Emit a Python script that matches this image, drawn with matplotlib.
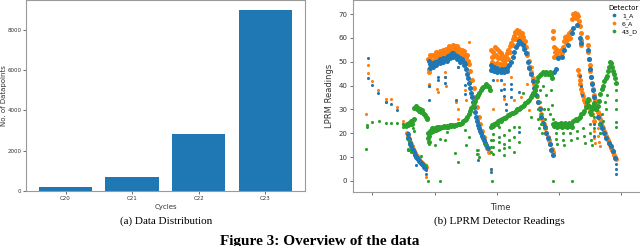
import numpy as np
import matplotlib.pyplot as plt

# ---- left panel: datapoints per cycle
cycles = ["C20", "C21", "C22", "C23"]
counts = [215, 712, 2832, 9000]

# ---- right panel: LPRM readings (time index, reading)
# dense runs of readings
a1_band_t = [260, 262, 264, 266, 268, 270, 273, 276, 279, 282, 285, 288, 291, 294, 297, 300, 303, 306, 309, 312,
             322, 325, 330, 335, 340, 345, 350, 355, 360, 365, 370, 375, 380, 385, 390, 395, 400, 405, 410, 415, 420, 425, 430,
             325, 335, 345, 355, 365, 375, 385, 395, 405, 415, 425,
             433, 436, 439, 442, 445, 448, 451, 454, 457, 460, 463, 466, 469, 472, 475, 478, 481, 484, 487, 490, 493, 496,
             505, 510, 515, 520, 525, 530, 535, 540, 545, 550, 555, 560,
             505, 515, 525, 535, 545, 555,
             565, 570, 575, 580, 585, 590, 595, 600, 605, 610, 615, 620,
             625, 630, 635, 640, 645, 650, 655, 660, 665, 670, 675, 680, 685, 690,
             692, 700, 705, 715, 723, 735, 745, 750, 760, 770, 772,
             793, 796, 799, 802, 805, 808, 812, 818, 824, 830, 836, 842, 848, 854, 860, 866, 872]
a1_band_v = [19.8, 18.0, 17.5, 16.0, 15.5, 14.5, 13.5, 12.8, 12.0, 11.0, 10.2, 9.5, 9.0, 8.5, 8.0, 7.5, 7.0, 6.5, 6.0, 5.5,
             50.5, 49.0, 48.5, 49.5, 50.0, 49.8, 50.5, 51.0, 50.6, 51.5, 51.0, 52.0, 52.5, 53.0, 53.5, 53.8, 53.0, 52.5, 52.0, 51.5, 51.0, 50.0, 49.0,
             47.5, 48.0, 48.5, 49.5, 50.0, 50.5, 51.5, 52.0, 51.0, 50.0, 48.5,
             47.0, 45.0, 43.0, 41.0, 39.0, 37.0, 35.0, 33.0, 31.0, 29.0, 27.0, 25.0, 23.5, 22.0, 21.0, 20.0, 19.0, 18.0, 17.0, 16.0, 15.0, 14.0,
             48.5, 47.5, 48.0, 47.0, 47.5, 46.5, 47.0, 46.5, 47.0, 46.5, 47.5, 48.5,
             46.5, 46.0, 45.5, 45.5, 45.5, 46.0,
             50.0, 52.0, 54.0, 56.0, 57.5, 58.5, 58.0, 57.0, 55.5, 53.5, 50.0, 47.5,
             45.0, 42.0, 39.0, 36.0, 33.0, 30.0, 27.0, 24.5, 22.5, 20.0, 18.0, 15.5, 13.0, 11.0,
             45.7, 47.0, 51.5, 52.0, 54.8, 57.0, 62.0, 64.0, 65.5, 60.0, 58.0,
             55.0, 51.0, 47.0, 43.5, 40.5, 38.0, 35.0, 30.0, 27.0, 24.0, 22.0, 20.0, 18.0, 16.0, 14.5, 12.5, 9.5]
# scattered readings
a1_pts_t = [143, 143, 155, 173, 197, 210, 228, 245, 262, 285, 315, 315,
            322, 322, 350, 350, 370, 370, 402, 410, 430, 430, 467, 505, 505,
            512, 535, 535, 545, 545, 550, 550, 565, 565, 565, 590, 588,
            875, 875, 875, 770, 772, 776, 800, 812, 810]
a1_pts_v = [51.6, 43.3, 40.1, 36.9, 33.1, 32.4, 29.6, 24.0, 13.1, 6.6, 3.1, 4.5,
            39.7, 33.8, 43.6, 42.2, 43.6, 41.0, 33.8, 47.8, 40.1, 36.5, 8.7, 3.8, 5.2,
            42.2, 42.2, 38.0, 38.7, 35.8, 32.4, 29.6, 40.8, 38.7, 35.2, 37.3, 20.5,
            7.3, 5.0, 3.1, 44.0, 40.0, 36.0, 31.0, 24.0, 19.0]

a6_band_t = [258, 261, 264, 267, 270, 273, 276, 279, 282, 285, 288, 291, 294, 297, 300, 303, 306, 309, 312, 315,
             320, 322, 324, 326, 330, 333, 336, 340, 343, 346, 350, 353, 356, 360, 363, 366, 370, 373, 376, 380,
             383, 386, 390, 393, 396, 400, 403, 406, 410, 413, 416, 420, 423, 426, 430, 433, 436, 438,
             326, 335, 345, 355, 365, 375, 385, 395, 405, 415, 425,
             440, 445, 450, 455, 460, 465, 470, 475, 480, 485, 490, 495, 500,
             505, 508, 510, 513, 516, 519, 522, 525, 528, 531, 534, 537, 540, 543, 546, 550, 554, 558, 562, 566,
             570, 574, 578, 582, 586, 590, 594, 598, 602, 606, 610, 614, 618, 622, 626, 630, 634, 638, 642, 646,
             650, 654, 658, 662, 666, 670, 674, 678, 682, 686, 690,
             508, 516, 524, 532, 540, 548, 556, 564, 572, 580, 588, 596, 604, 612, 620,
             690, 690, 692, 694, 696, 700, 703, 706, 710, 713, 716, 720, 723, 726, 729, 732, 735, 738, 741, 744,
             747, 750, 753, 756, 759, 762, 765, 768, 770, 772, 773, 774,
             790, 792, 794, 796, 798, 800, 803, 806, 809, 812, 815, 818,
             765, 767, 769, 771, 773, 776, 779, 782, 785, 788, 791,
             795, 800, 805, 810,
             820, 823, 826, 829, 832, 835, 838, 841, 844, 847, 850, 853, 856, 859, 862, 865, 868, 871, 874, 876]
a6_band_v = [20.0, 18.5, 17.5, 16.5, 15.5, 14.5, 13.5, 12.5, 11.8, 11.0, 10.3, 9.5, 9.0, 8.4, 8.0, 7.5, 7.0, 6.5, 6.0, 5.8,
             51.0, 47.0, 45.5, 53.0, 52.5, 50.5, 53.0, 52.0, 54.0, 52.5, 53.5, 52.0, 54.5, 53.0, 55.0, 53.5, 54.0, 55.5, 54.0, 55.0,
             56.5, 55.0, 56.0, 57.0, 55.5, 56.5, 55.0, 56.5, 54.5, 55.5, 54.0, 55.0, 53.5, 54.5, 53.0, 52.0, 53.0, 50.5,
             50.0, 50.5, 51.0, 51.5, 52.0, 52.5, 53.5, 54.0, 53.5, 52.5, 52.0,
             49.0, 46.0, 42.5, 39.0, 35.0, 31.0, 27.0, 24.0, 21.0, 18.5, 16.0, 14.0, 12.0,
             55.0, 52.0, 50.0, 54.0, 52.5, 56.0, 53.0, 55.5, 51.5, 54.5, 52.0, 53.5, 51.0, 52.5, 50.5, 52.0, 53.5, 55.0, 56.5, 58.0,
             59.5, 61.0, 62.5, 63.5, 62.0, 63.0, 61.5, 62.0, 60.5, 58.5, 56.0, 53.0, 50.5, 48.0, 45.5, 43.0, 40.5, 38.0, 35.5, 33.0,
             30.5, 28.0, 26.0, 24.0, 22.0, 20.0, 18.5, 17.0, 15.5, 13.5, 12.0,
             48.5, 49.0, 49.5, 49.0, 48.5, 49.0, 51.0, 54.0, 57.0, 59.5, 60.0, 59.5, 57.0, 53.5, 48.0,
             63.0, 60.0, 56.0, 52.0, 54.0, 55.5, 53.0, 54.5, 52.5, 55.0, 53.5, 56.0, 58.5, 60.5, 58.0, 61.0, 59.5, 62.0, 60.0, 63.0,
             68.0, 70.0, 69.0, 70.5, 68.5, 70.0, 69.0, 67.0, 65.0, 62.0, 59.0, 57.0,
             60.4, 57.0, 54.0, 51.0, 48.5, 46.0, 43.5, 41.0, 38.5, 36.0, 34.0, 32.5,
             46.5, 44.5, 42.5, 40.5, 38.5, 37.0, 35.5, 34.0, 33.0, 32.0, 31.0,
             34.0, 30.0, 28.0, 25.0,
             31.0, 29.0, 27.5, 26.0, 24.5, 23.0, 22.0, 21.0, 20.0, 19.0, 18.0, 17.0, 16.0, 15.0, 14.0, 13.0, 12.0, 11.0, 10.0, 9.0]
a6_pts_t = [143, 143, 138, 155, 173, 197, 197, 210, 228, 245, 260, 315,
            322, 322, 348, 350, 370, 370, 372, 402, 410, 410, 410, 430, 432, 440, 467, 467, 505,
            512, 525, 535, 545, 545, 565, 575, 595, 612, 618, 628,
            812, 812, 815, 822, 822, 825, 828, 830]
a6_pts_v = [48.5, 45.4, 27.9, 41.9, 38.3, 34.5, 33.1, 34.5, 31.0, 25.1, 18.4, 1.7,
            39.7, 40.8, 38.7, 37.3, 45.7, 43.6, 40.0, 33.3, 47.8, 30.3, 26.0, 38.0, 33.8, 58.3, 13.1, 11.5, 4.8,
            30.3, 42.2, 42.2, 40.8, 34.5, 43.6, 33.8, 35.2, 40.8, 29.6, 47.8,
            21.0, 18.0, 16.0, 22.0, 19.0, 16.5, 14.5, 20.0]

d43_band_t = [255, 258, 261, 264, 267, 270, 273, 276, 279, 280, 283, 286, 289, 292, 295, 298, 301, 304, 307, 310, 313, 316, 318,
              320, 321, 322, 324, 327, 330, 333, 336, 340, 343, 346, 350, 353, 356, 360, 364, 368, 372, 376, 380, 384, 388,
              392, 396, 400, 404, 408, 412, 416, 420, 424, 428, 432, 436, 440, 444, 448, 452, 456, 460, 464, 468, 472, 476,
              480, 484, 488, 492, 496, 500, 504,
              505, 508, 512, 516, 520, 524, 528, 532, 536, 540, 544, 548, 552, 556, 560, 564, 568, 572, 576, 580, 584, 588,
              592, 596, 600, 604, 608, 612, 616, 620, 624, 628, 632, 636, 640, 643, 646, 650, 655, 660, 665, 670, 675, 680,
              685, 688,
              690, 693, 696, 700, 703, 706, 710, 713, 716, 720, 723, 726, 730, 733, 736, 740, 743, 746, 750, 754, 758, 762,
              766, 770, 774, 778, 782, 786, 790, 792, 795, 798, 801, 804, 807, 810, 814, 818, 822, 826, 830, 834, 838, 842,
              846, 850, 853, 856, 859, 862, 865, 868, 871, 874, 876]
d43_band_v = [23.0, 24.0, 23.5, 24.5, 23.8, 25.0, 24.0, 25.5, 26.0, 30.5, 31.3, 30.0, 30.8, 29.5, 30.2, 29.0, 29.8, 28.5, 28.0, 27.5, 27.0, 26.5, 26.0,
              18.0, 20.0, 16.5, 19.0, 21.0, 20.5, 22.0, 21.0, 22.0, 21.5, 22.5, 21.8, 22.5, 22.0, 22.8, 22.5, 23.0, 22.6, 23.2, 22.8, 23.3, 23.0,
              23.4, 23.0, 23.5, 23.3, 23.8, 24.0, 24.0, 24.5, 25.0, 25.5, 26.0, 27.0, 28.0, 29.5, 30.5, 31.5, 32.5, 33.5, 35.0, 36.0, 37.0, 38.0,
              39.0, 39.5, 40.0, 40.5, 40.0, 39.5, 38.0,
              22.5, 23.5, 23.0, 24.0, 24.5, 24.0, 25.0, 25.5, 25.2, 26.0, 26.5, 26.2, 27.0, 27.5, 27.5, 28.0, 28.5, 28.3, 29.0, 29.5, 30.0, 30.3,
              30.5, 31.0, 31.5, 32.0, 32.5, 33.0, 33.5, 34.0, 35.0, 36.0, 37.0, 38.0, 40.0, 42.0, 43.5, 44.5, 45.0, 45.5, 45.0, 45.5, 45.0, 45.5,
              44.5, 43.0,
              24.0, 23.0, 24.5, 23.5, 22.8, 24.0, 23.0, 24.3, 22.7, 23.8, 23.0, 24.2, 22.8, 23.5, 24.5, 23.0, 24.0, 22.8, 25.0, 25.5, 26.0, 25.5,
              26.5, 27.0, 28.0, 28.5, 29.5, 31.0, 33.0, 34.5, 31.5, 29.0, 28.0, 30.0, 31.5, 32.5, 31.0, 30.0, 31.5, 33.5, 36.5, 38.5, 40.0, 42.0,
              43.0, 44.0, 46.0, 48.0, 50.0, 49.5, 48.0, 46.0, 45.0, 43.0, 41.0]
d43_pts_t = [138, 140, 140, 155, 175, 197, 210, 228, 245, 245, 250,
             262, 265, 270, 275, 280, 300, 315, 320, 355, 265,
             322, 340, 355, 370, 375, 400, 410, 430, 432, 440, 465, 465, 470, 490, 505, 505, 505, 510,
             642, 645, 645, 648, 650, 652, 655, 655, 658, 660, 662, 665, 668, 670, 675, 680, 685, 688, 689,
             512, 512, 512, 512, 530, 530, 530, 530, 545, 545, 545, 545, 560, 560, 560, 575, 575, 575, 590, 590, 600, 625,
             690, 745,
             700, 700, 702, 720, 720, 722, 740, 742, 760, 762, 780, 782, 785, 800, 800, 802, 804, 810, 812, 825, 828, 835,
             838, 845, 848, 850,
             876, 876, 876, 876, 876]
d43_pts_v = [13.4, 23.3, 22.6, 24.7, 25.0, 24.4, 24.4, 24.3, 24.0, 22.6, 23.0,
             13.5, 13.1, 12.0, 22.0, 21.0, 10.5, 6.6, 0.0, 0.0, 17.0,
             15.6, 15.0, 17.7, 17.0, 20.5, 11.7, 8.0, 21.2, 15.0, 18.4, 12.9, 11.5, 10.1, 15.6, 17.0, 14.3, 12.2, 0.0,
             35.0, 30.0, 26.0, 22.0, 38.0, 33.0, 28.0, 24.0, 20.0, 40.0, 30.0, 26.0, 36.0, 22.0, 30.0, 28.0, 38.0, 32.0, 26.0,
             19.8, 17.0, 14.3, 11.5, 22.6, 18.4, 16.3, 12.9, 19.1, 15.6, 13.6, 11.0, 21.2, 17.0, 14.3, 22.6, 18.4, 12.2, 22.6, 16.3, 36.9, 26.8,
             0.0, 0.0,
             20.0, 17.5, 15.6, 20.0, 17.0, 15.0, 20.0, 17.0, 21.0, 18.0, 22.0, 19.0, 16.0, 24.0, 20.0, 17.0, 15.0, 27.0, 22.0, 24.0, 20.0, 28.0,
             25.0, 33.0, 30.0, 36.0,
             38.0, 33.8, 30.3, 24.7, 22.6]

time_ticks = [155, 340, 523, 707, 890]

spine_col = "#9a9a9a"
txt_col = "#333333"
blue, orange, green = "#1f77b4", "#ff7f0e", "#2ca02c"

fig = plt.figure(figsize=(6.4, 2.46), dpi=100)

# left panel
ax1 = fig.add_axes([0.041, 0.224, 0.436, 0.774])
ax1.bar(cycles, counts, width=0.8, color=blue)
ax1.set_xlim(-0.59, 3.6)
ax1.set_ylim(0, 9450)
ax1.set_yticks([0, 2000, 4000, 6000, 8000])
ax1.set_xlabel("Cycles", fontsize=5, color=txt_col, labelpad=2)
ax1.set_ylabel("No. of Datapoints", fontsize=5, color=txt_col)
ax1.yaxis.set_label_coords(-0.07, 0.5)
ax1.tick_params(labelsize=4, colors=txt_col, length=2, width=0.5, pad=1.5)

# right panel
ax2 = fig.add_axes([0.551, 0.221, 0.46, 0.777])
ax2.scatter(a6_band_t, a6_band_v, s=13, color=orange, linewidths=0, zorder=2)
ax2.scatter(a1_band_t, a1_band_v, s=13, color=blue, linewidths=0, zorder=3)
ax2.scatter(d43_band_t, d43_band_v, s=13, color=green, linewidths=0, zorder=4)
ax2.scatter(a1_pts_t, a1_pts_v, s=5, color=blue, label="1_A", linewidths=0, zorder=3)
ax2.scatter(a6_pts_t, a6_pts_v, s=5, color=orange, label="6_A", linewidths=0, zorder=2)
ax2.scatter(d43_pts_t, d43_pts_v, s=5, color=green, label="43_D", linewidths=0, zorder=4)
ax2.set_xlim(97, 968)
ax2.set_ylim(-4.5, 75.7)
ax2.set_xticks(time_ticks)
ax2.set_xticklabels([])
ax2.set_yticks([0, 10, 20, 30, 40, 50, 60, 70])
ax2.set_xlabel("Time", fontsize=6, color=txt_col, labelpad=4)
ax2.set_ylabel("LPRM Readings", fontsize=6, color=txt_col, labelpad=3)
ax2.tick_params(labelsize=5, colors=txt_col, length=2, width=0.5, pad=2)
ax2.legend(title="Detector", loc="upper right", fontsize=4.5, title_fontsize=5,
           frameon=False, markerscale=1.2, handletextpad=0.2, labelspacing=0.3,
           borderaxespad=0.3, bbox_to_anchor=(0.985, 1.0))

for ax in (ax1, ax2):
    for sp in ax.spines.values():
        sp.set_color(spine_col)
        sp.set_linewidth(0.8)

fig.text(0.26, 0.1, "(a) Data Distribution", fontsize=8, family="Liberation Serif",
         ha="center", va="center")
fig.text(0.78, 0.1, "(b) LPRM Detector Readings", fontsize=8, family="Liberation Serif",
         ha="center", va="center")
fig.text(0.5, 0.045, "Figure 3: Overview of the data", fontsize=11, family="Liberation Serif",
         fontweight="bold", ha="center", va="top")

fig.savefig("out.png", dpi=100)
